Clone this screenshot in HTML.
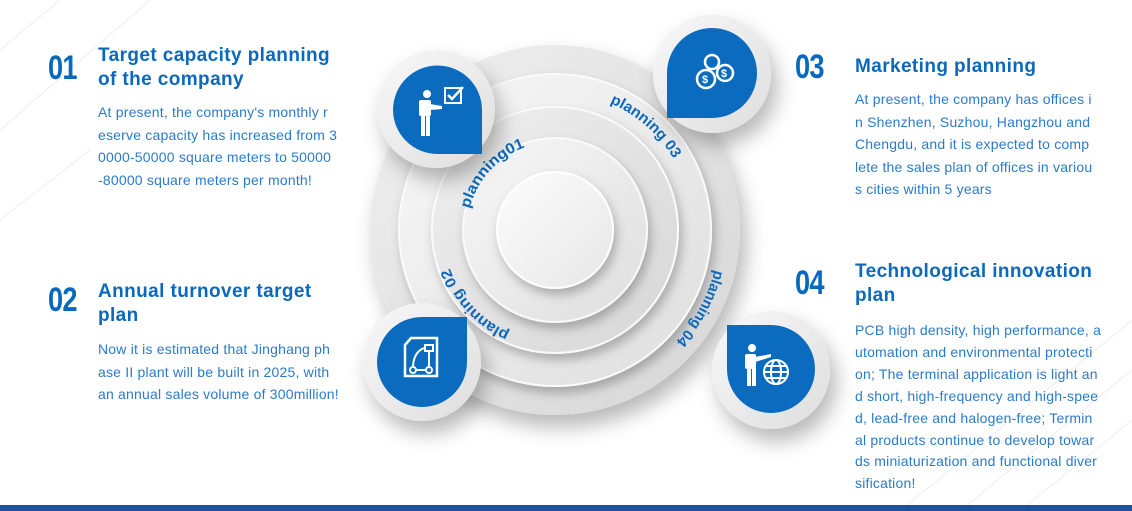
<!DOCTYPE html>
<html><head><meta charset="utf-8"><style>
*{margin:0;padding:0;box-sizing:border-box}
body{width:1132px;height:511px;overflow:hidden;background:#fff;position:relative;font-family:"Liberation Sans",sans-serif}
.num{position:absolute;font-family:"Liberation Sans",sans-serif;font-weight:bold;color:#0b69bd;font-size:34px;transform:scaleX(0.8);transform-origin:left;letter-spacing:-1px}
.tt{position:absolute;color:#0b69bd;font-weight:bold;font-size:19px;line-height:24px;letter-spacing:0.4px}
.bd{position:absolute;color:#2b7bcc;font-size:14px;line-height:22.5px;white-space:nowrap;letter-spacing:0.2px}
.bar{position:absolute;left:0;top:505px;width:1132px;height:6px;background:#1e509c}
</style></head><body>
<svg width="1132" height="511" style="position:absolute;left:0;top:0">
<defs>
<filter id="sh" x="-40%" y="-40%" width="180%" height="180%"><feDropShadow dx="6" dy="12" stdDeviation="10" flood-color="#000" flood-opacity="0.28"/></filter>
<filter id="sh2" x="-40%" y="-40%" width="180%" height="180%"><feDropShadow dx="3" dy="6" stdDeviation="5" flood-color="#000" flood-opacity="0.25"/></filter>
<linearGradient id="g" x1="0" y1="0" x2="1" y2="1"><stop offset="0" stop-color="#f0f0f0"/><stop offset="1" stop-color="#d6d6d6"/></linearGradient>
<linearGradient id="g2" x1="0" y1="0" x2="1" y2="1"><stop offset="0" stop-color="#f8f8f8"/><stop offset="1" stop-color="#dedede"/></linearGradient>
<linearGradient id="g3" x1="0" y1="0" x2="1" y2="1"><stop offset="0" stop-color="#fdfdfd"/><stop offset="1" stop-color="#e6e6e6"/></linearGradient>
<path id="p01" d="M 469.6 208.7 A 88 88 0 1 1 640.4 251.3"/>
<path id="p03" d="M 609.9 103.0 A 138 138 0 1 1 500.1 356.5"/>
<path id="p02" d="M 509.4 332.3 A 112 112 0 1 1 600.6 127.7"/>
<path id="p04" d="M 714.5 269.9 A 164 164 0 1 1 395.5 190.1"/>
</defs>
<g stroke="#eeeeee" stroke-width="1">
<line x1="0" y1="50" x2="60" y2="0"/><line x1="0" y1="130" x2="150" y2="0"/><line x1="0" y1="220" x2="90" y2="150"/>
<line x1="900" y1="511" x2="1132" y2="320"/><line x1="960" y1="511" x2="1132" y2="370"/><line x1="1020" y1="511" x2="1132" y2="420"/>
</g>
<circle cx="555" cy="230" r="185" fill="url(#g)" filter="url(#sh)"/>
<circle cx="555" cy="230" r="156" fill="url(#g2)" stroke="#fafafa" stroke-width="2" filter="url(#sh2)"/>
<circle cx="555" cy="230" r="123" fill="url(#g)" stroke="#fafafa" stroke-width="2" filter="url(#sh2)"/>
<circle cx="555" cy="230" r="92" fill="url(#g2)" stroke="#fafafa" stroke-width="2" filter="url(#sh2)"/>
<circle cx="555" cy="230" r="58" fill="url(#g3)" stroke="#fff" stroke-width="2" filter="url(#sh2)"/>
<g font-family="Liberation Sans, sans-serif" font-weight="bold" font-size="15" fill="#0b69bd">
<text><textPath href="#p01" textLength="86" lengthAdjust="spacingAndGlyphs">planning01</textPath></text>
<text><textPath href="#p03" textLength="86" lengthAdjust="spacingAndGlyphs">planning 03</textPath></text>
<text><textPath href="#p02" textLength="90" lengthAdjust="spacingAndGlyphs">planning 02</textPath></text>
<text><textPath href="#p04" textLength="82" lengthAdjust="spacingAndGlyphs">planning 04</textPath></text>
</g>
<g filter="url(#sh)">
<circle cx="436" cy="109" r="59" fill="url(#g2)"/>
<circle cx="712" cy="74" r="59" fill="url(#g2)"/>
<circle cx="422" cy="362" r="59" fill="url(#g2)"/>
<circle cx="771" cy="370" r="59" fill="url(#g2)"/>
</g>
<g fill="#0b6cbf">
<path d="M393 110 A44.5 44.5 0 1 1 482 110 L482 154 L437.5 154 A44.5 44.5 0 0 1 393 110Z"/>
<path d="M667 73 A45 45 0 1 1 757 73 A45 45 0 0 1 712 118 L667 118Z"/>
<path d="M377 362 A45 45 0 0 1 422 317 L467 317 L467 362 A45 45 0 0 1 377 362Z"/>
<path d="M727 325 L771 325 A44 44 0 1 1 727 369Z"/>
</g>
<g fill="#fff" stroke="none">
<circle cx="427" cy="94" r="4"/><rect x="419" y="100" width="12" height="16" rx="2"/><rect x="421" y="114" width="4" height="22"/><rect x="426" y="114" width="4" height="22"/><path d="M430 104 L442 106 L442 109 L430 110Z"/>
<rect x="445" y="88" width="16" height="15" fill="none" stroke="#fff" stroke-width="2"/><path d="M448 95 L452 99 L463 87" fill="none" stroke="#fff" stroke-width="2.5"/>
<g fill="none" stroke="#fff" stroke-width="2.5"><circle cx="712" cy="62" r="7"/><circle cx="725" cy="73" r="8"/><circle cx="706" cy="79" r="9"/></g>
<g font-family="Liberation Sans" font-weight="bold" font-size="11" fill="#fff"><text x="721" y="77">$</text><text x="702" y="83">$</text></g>
<path d="M411 338 L437 338 L437 376 L405 376 L405 345Z" fill="none" stroke="#fff" stroke-width="2.5"/>
<g fill="none" stroke="#fff" stroke-width="2"><rect x="425" y="345" width="8" height="6"/><circle cx="413" cy="370" r="3"/><circle cx="429" cy="370" r="3"/><path d="M416 370 L426 370 M429 367 L429 352 M424 348 Q414 352 413 366"/></g>
<circle cx="752" cy="348" r="4"/><rect x="745" y="354" width="11" height="15" rx="2"/><rect x="747" y="367" width="4" height="19"/><rect x="752" y="367" width="4" height="19"/><path d="M755 357 L771 354 L771 357 L755 362Z"/>
<g fill="none" stroke="#fff" stroke-width="2"><circle cx="776" cy="372" r="12"/><ellipse cx="776" cy="372" rx="5" ry="12"/><line x1="764" y1="372" x2="788" y2="372"/><line x1="766" y1="366" x2="786" y2="366"/><line x1="766" y1="378" x2="786" y2="378"/></g>
</g>
</svg>

<div class="num" style="left:48px;top:49px">01</div>
<div class="tt" style="left:98px;top:44px">Target capacity planning<br>of the company</div>
<div class="bd" style="left:98px;top:101px">At present, the company's monthly r<br>eserve capacity has increased from 3<br>0000-50000 square meters to 50000<br>-80000 square meters per month!</div>

<div class="num" style="left:48px;top:281px">02</div>
<div class="tt" style="left:98px;top:280px">Annual turnover target<br>plan</div>
<div class="bd" style="left:98px;top:338px">Now it is estimated that Jinghang ph<br>ase II plant will be built in 2025, with<br>an annual sales volume of 300million!</div>

<div class="num" style="left:795px;top:48px">03</div>
<div class="tt" style="left:855px;top:55px">Marketing planning</div>
<div class="bd" style="left:855px;top:88px">At present, the company has offices i<br>n Shenzhen, Suzhou, Hangzhou and<br>Chengdu, and it is expected to comp<br>lete the sales plan of offices in variou<br>s cities within 5 years</div>

<div class="num" style="left:795px;top:264px">04</div>
<div class="tt" style="left:855px;top:260px">Technological innovation<br>plan</div>
<div class="bd" style="left:855px;top:320px;line-height:21.9px">PCB high density, high performance, a<br>utomation and environmental protecti<br>on; The terminal application is light an<br>d short, high-frequency and high-spee<br>d, lead-free and halogen-free; Termin<br>al products continue to develop towar<br>ds miniaturization and functional diver<br>sification!</div>
<div class="bar"></div>
</body></html>
